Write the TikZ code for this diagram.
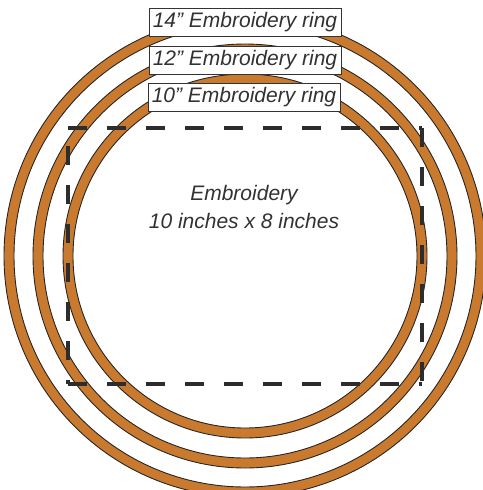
\documentclass[tikz,border=0pt]{standalone}
\usepackage{fontspec}
\setmainfont{Liberation Sans}
\usepackage{tikz}

\definecolor{ringorange}{RGB}{201,122,46}
\definecolor{inkgray}{RGB}{50,50,50}

\tikzset{
  ringline/.style={draw=black!85,line width=0.9pt},
  ringlabel/.style={draw=black!80,line width=0.8pt,fill=white,minimum width=192pt,minimum height=28pt,inner sep=0pt,font=\fontsize{21}{24}\selectfont\itshape,text=inkgray},
  hoopdash/.style={line width=4.5pt,draw=inkgray!90!black,dash pattern=on 19pt off 20pt},
}

\newcommand{\hoop}[2]{%
  \fill[ringorange,even odd rule] (c) circle (#1) (c) circle (#2);
  \draw[ringline] (c) circle (#1) (c) circle (#2);
}

\begin{document}
\begin{tikzpicture}[x=1pt,y=-1pt]
  \useasboundingbox (0,0) rectangle (482,490);
  \coordinate (c) at (245,256);

  \hoop{241}{231}
  \hoop{212}{202}
  \hoop{182}{172}

  \coordinate (tl) at (68,128);
  \coordinate (tr) at (422,128);
  \coordinate (br) at (422,384);
  \coordinate (bl) at (68,384);
  \draw[hoopdash] (tl) -- (tr);
  \draw[hoopdash] (tr) -- (br);
  \draw[hoopdash] (bl) -- (br);
  \draw[hoopdash,dash phase=15pt] (bl) -- (tl);

  \node[ringlabel] (ring14) at (245,22.5) {14'' Embroidery ring};
  \node[ringlabel] (ring12) at (245,60.5) {12'' Embroidery ring};
  \node[ringlabel] (ring10) at (244,97) {10'' Embroidery ring};

  \node[align=center,font=\fontsize{21}{28}\selectfont\itshape,text=inkgray] (work) at (244,207) {Embroidery\\10 inches x 8 inches};
\end{tikzpicture}
\end{document}
